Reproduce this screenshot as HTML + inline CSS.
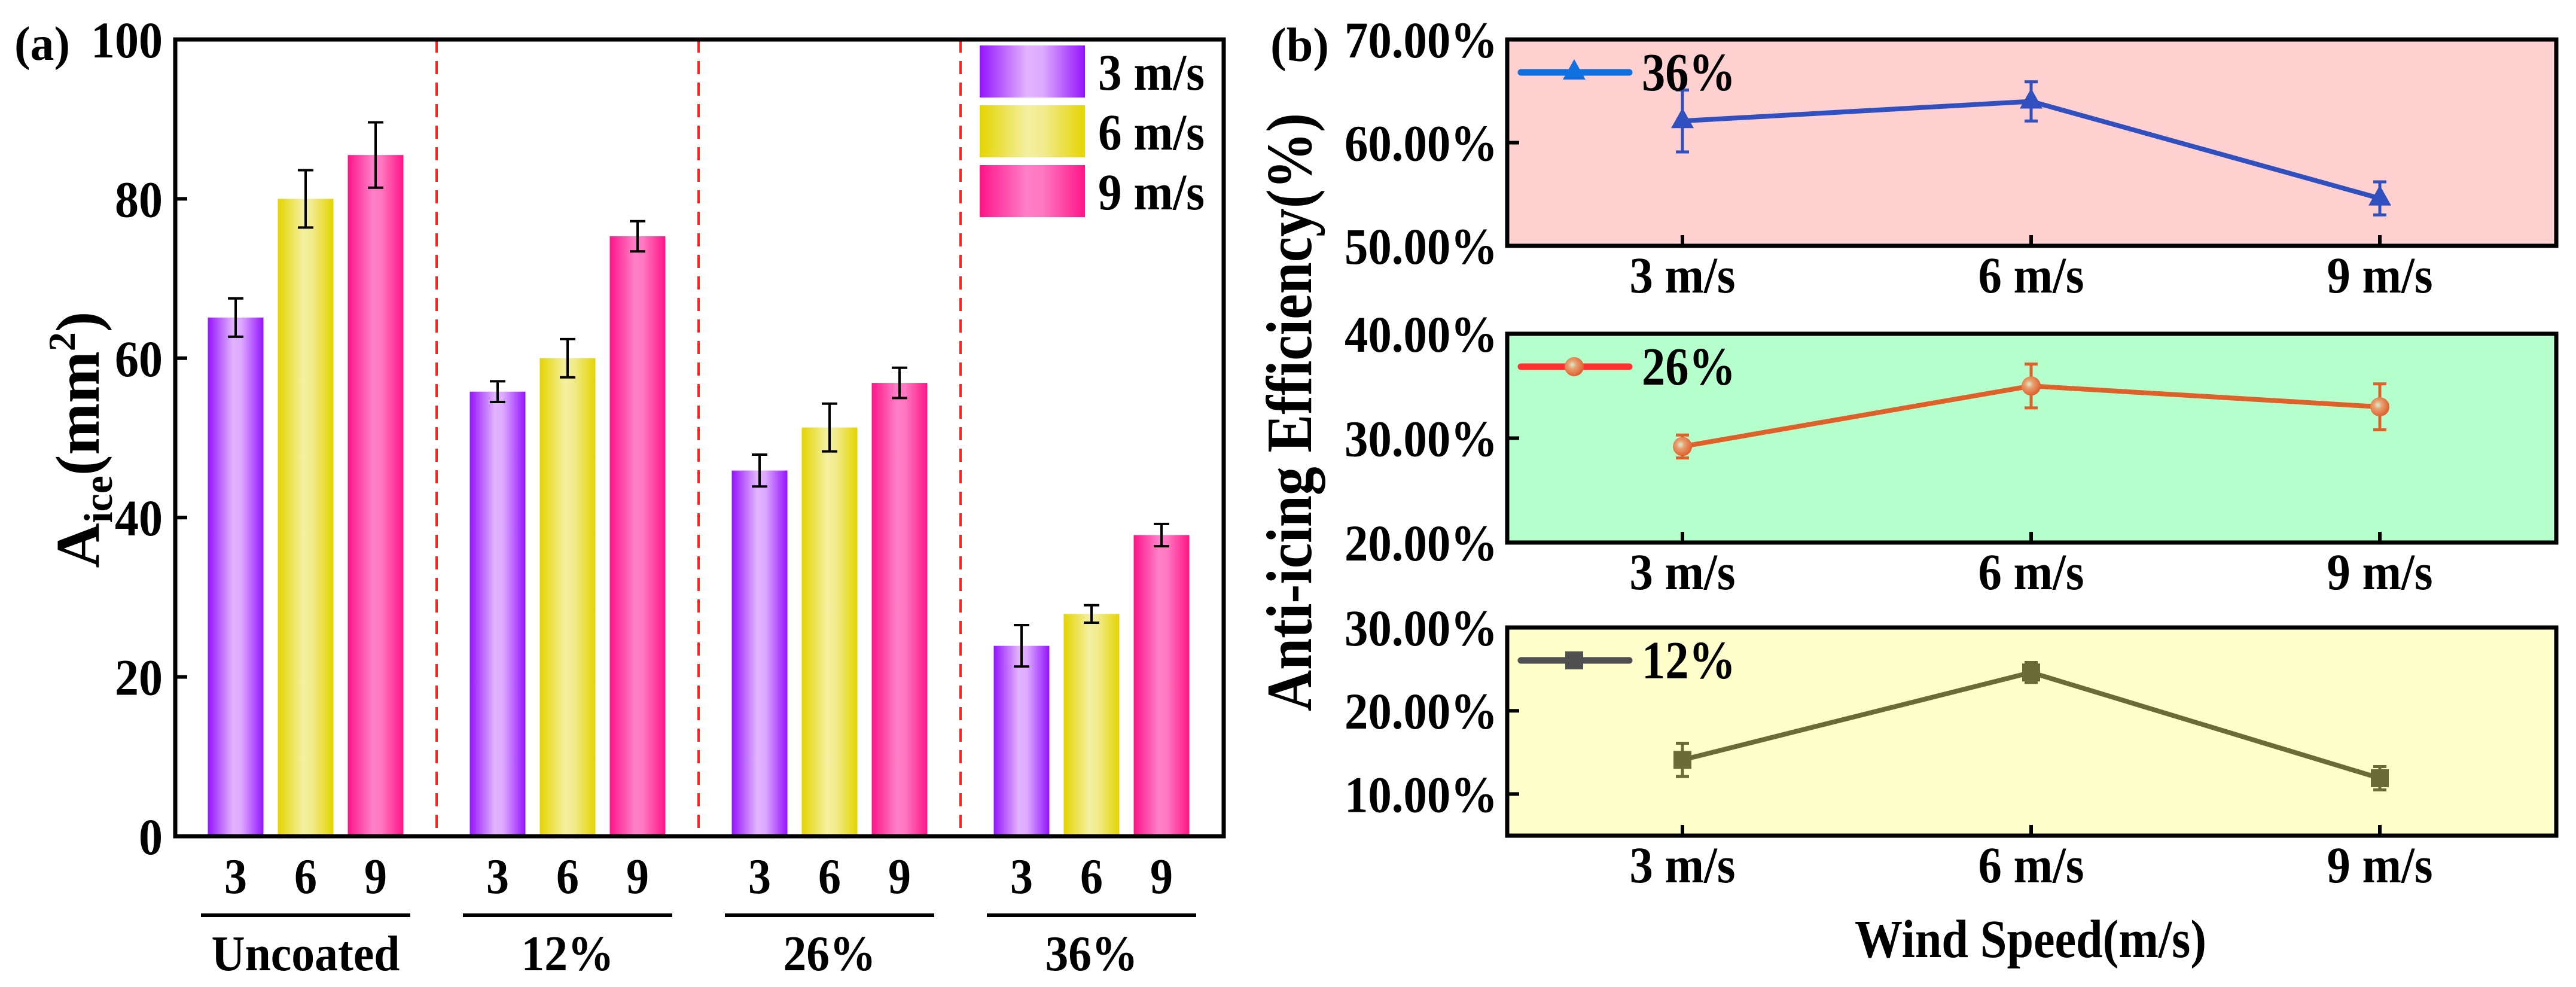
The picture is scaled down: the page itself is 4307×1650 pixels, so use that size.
<!DOCTYPE html>
<html><head><meta charset="utf-8">
<style>
html,body{margin:0;padding:0;background:#fff;}
svg{display:block;font-family:"Liberation Serif","Times New Roman",serif;font-weight:bold;}
</style></head>
<body>
<svg id="chart" width="4307" height="1650" viewBox="0 0 4307 1650" xmlns="http://www.w3.org/2000/svg" font-family="Liberation Serif, serif" font-weight="bold">
<defs>
<linearGradient id="gP" x1="0" x2="1" y1="0" y2="0"><stop offset="0" stop-color="#9414ff"/><stop offset="0.45" stop-color="#e2b4ff"/><stop offset="0.6" stop-color="#ddaaff"/><stop offset="1" stop-color="#9414ff"/></linearGradient>
<linearGradient id="gY" x1="0" x2="1" y1="0" y2="0"><stop offset="0" stop-color="#e4d400"/><stop offset="0.45" stop-color="#f4f0a0"/><stop offset="0.6" stop-color="#f2ec90"/><stop offset="1" stop-color="#e4d400"/></linearGradient>
<linearGradient id="gK" x1="0" x2="1" y1="0" y2="0"><stop offset="0" stop-color="#ff1488"/><stop offset="0.45" stop-color="#ff80c8"/><stop offset="0.6" stop-color="#ff78c0"/><stop offset="1" stop-color="#ff1488"/></linearGradient>
<radialGradient id="gBall" cx="0.4" cy="0.4" r="0.6"><stop offset="0" stop-color="#d8f0d0"/><stop offset="0.35" stop-color="#e8a070"/><stop offset="1" stop-color="#e06030"/></radialGradient>
</defs>
<g id="left"></g>
<g id="right"></g>
</svg>
<script>
const groups = ["Uncoated","12%","26%","36%"];
const speeds = ["3","6","9"];
const barVals3 = [65.1, 55.8, 45.9, 23.9];
const barVals6 = [80.0, 60.0, 51.3, 27.9];
const barVals9 = [85.5, 75.3, 56.9, 37.8];
const barErr3 = [2.4, 1.3, 2.0, 2.6];
const barErr6 = [3.6, 2.4, 3.0, 1.1];
const barErr9 = [4.1, 1.9, 1.9, 1.4];
const yTicksA = [0,20,40,60,80,100];
const legendA = ["3 m/s","6 m/s","9 m/s"];

const windLabels = ["3 m/s","6 m/s","9 m/s"];
const eff36 = [62.1, 64.0, 54.6];
const err36 = [3.0, 1.9, 1.6];
const eff26 = [29.2, 35.0, 33.0];
const err26 = [1.1, 2.1, 2.2];
const eff12 = [14.1, 24.6, 11.9];
const err12 = [2.0, 1.2, 1.4];
const ticks36 = ["70.00%","60.00%","50.00%"];
const ticks26 = ["40.00%","30.00%","20.00%"];
const ticks12 = ["30.00%","20.00%","10.00%"];

const NS="http://www.w3.org/2000/svg";
function mk(parent,tag,attrs,text){const e=document.createElementNS(NS,tag);for(const k in attrs)e.setAttribute(k,attrs[k]);if(text!==undefined)e.textContent=text;parent.appendChild(e);return e;}
function fit(el,w){el.setAttribute('textLength',w);el.setAttribute('lengthAdjust','spacingAndGlyphs');}

// ---------- Left chart ----------
const L=document.getElementById('left');
const ax={l:293,r:2046,t:66,b:1398};
const yA=v=>ax.b-(v/100)*(ax.b-ax.t);
const groupCenter=g=>511+g*438;
const barOff=[-117,0,117], barW=93;
const fills=["url(#gP)","url(#gY)","url(#gK)"];
const vals=[barVals3,barVals6,barVals9], errs=[barErr3,barErr6,barErr9];
const groupW=[315,155,155,155];
for(let g=0;g<groups.length;g++){
  for(let s=0;s<3;s++){
    const cx=groupCenter(g)+barOff[s], v=vals[s][g], e=errs[s][g];
    const r=mk(L,'rect',{x:cx-barW/2,y:yA(v),width:barW,height:ax.b-yA(v),fill:fills[s]});
    
    
    const eb=mk(L,'path',{d:`M${cx} ${yA(v+e)}V${yA(v-e)}M${cx-13} ${yA(v+e)}H${cx+13}M${cx-13} ${yA(v-e)}H${cx+13}`,stroke:'#000','stroke-width':4,fill:'none'});
    
    
    const t=mk(L,'text',{x:cx,y:1493,'font-size':84,'text-anchor':'middle'},speeds[s]);
    fit(t,38);
    
    
  }
  const c=groupCenter(g);
  const u=mk(L,'line',{x1:c-175,x2:c+175,y1:1530,y2:1530,stroke:'#000','stroke-width':6});
  
  
  const gt=mk(L,'text',{x:c,y:1622,'font-size':84,'text-anchor':'middle'},groups[g]);
  fit(gt,groupW[g]);
  
  
  if(g>0){
    const dx=(groupCenter(g-1)+groupCenter(g))/2;
    const dl=mk(L,'line',{x1:dx,x2:dx,y1:ax.t,y2:ax.b,stroke:'#ff2020','stroke-width':4,'stroke-dasharray':'22 14'});
    
    
  }
}
const fr=mk(L,'rect',{x:ax.l,y:ax.t,width:ax.r-ax.l,height:ax.b-ax.t,fill:'none',stroke:'#000','stroke-width':7});


yTicksA.forEach(v=>{
  const tk=mk(L,'line',{x1:ax.l,x2:ax.l+20,y1:yA(v),y2:yA(v),stroke:'#000','stroke-width':6});
  
  
  const tl=mk(L,'text',{x:272,y:yA(v)+30,'font-size':86,'text-anchor':'end'},String(v));
  fit(tl,String(v).length*40);
  
  
});
const yt=mk(L,'text',{transform:'translate(165 735) rotate(-90)','font-size':104,'text-anchor':'middle'});


yt.innerHTML='A<tspan font-size="68" dy="22">ice</tspan><tspan dy="-22">(mm</tspan><tspan font-size="64" dy="-40">2</tspan><tspan dy="40">)</tspan>';
const pa=mk(L,'text',{x:24,y:100,'font-size':80},'(a)');
fit(pa,93);


legendA.forEach((s,i)=>{
  const y0=76+i*100;
  const lr=mk(L,'rect',{x:1638,y:y0,width:176,height:87,fill:fills[i]});
  
  
  const lt=mk(L,'text',{x:1836,y:y0+74,'font-size':86},s);
  fit(lt,178);
  
  
});

// ---------- Right charts ----------
const R=document.getElementById('right');
const px={l:2520,r:4274};
const xB=i=>2813+i*583;
const panels=[
 {t:66,b:411,min:50,max:70,tv:[70,60,50],tl:ticks36,vals:eff36,errs:err36,bg:'#ffd0d0',col:'#3050c0',lcol:'#1070e0',mk:'tri',name:'36%'},
 {t:558,b:907,min:20,max:40,tv:[40,30,20],tl:ticks26,vals:eff26,errs:err26,bg:'#b5ffcc',col:'#e0602a',lcol:'#ff3030',mk:'ball',name:'26%'},
 {t:1049,b:1397,min:5,max:30,tv:[30,20,10],tl:ticks12,vals:eff12,errs:err12,bg:'#ffffcc',col:'#6b6b38',lcol:'#505050',mk:'sq',name:'12%'}
];
function marker(par,type,x,y,col){
  let e;
  if(type==='tri') e=mk(par,'path',{d:`M${x} ${y-22}L${x+19} ${y+12}L${x-19} ${y+12}Z`,fill:col});
  else if(type==='sq') e=mk(par,'rect',{x:x-15,y:y-15,width:30,height:30,fill:col});
  else e=mk(par,'circle',{cx:x,cy:y,r:16,fill:'url(#gBall)'});
  
  
}
panels.forEach((p,pi)=>{
  const y=v=>p.b-(v-p.min)/(p.max-p.min)*(p.b-p.t);
  const bg=mk(R,'rect',{x:px.l,y:p.t,width:px.r-px.l,height:p.b-p.t,fill:p.bg});
  
  
  p.tv.forEach((v,i)=>{
    const tk=mk(R,'line',{x1:px.l,x2:px.l+20,y1:y(v),y2:y(v),stroke:'#000','stroke-width':6});
    
    
    const tl=mk(R,'text',{x:2504,y:y(v)+30,'font-size':86,'text-anchor':'end'},p.tl[i]);
    fit(tl,256);
    
    
  });
  let d='';
  p.vals.forEach((v,i)=>{d+=(i?'L':'M')+xB(i)+' '+y(v);});
  const ln=mk(R,'path',{d:d,stroke:p.col,'stroke-width':8,fill:'none','stroke-linejoin':'round'});
  
  
  p.vals.forEach((v,i)=>{
    const x=xB(i),e=p.errs[i];
    const eb=mk(R,'path',{d:`M${x} ${y(v+e)}V${y(v-e)}M${x-11} ${y(v+e)}H${x+11}M${x-11} ${y(v-e)}H${x+11}`,stroke:p.col,'stroke-width':5,fill:'none'});
    
    
    marker(R,p.mk,x,y(v),p.col);
    const tk=mk(R,'line',{x1:x,x2:x,y1:p.b,y2:p.b-18,stroke:'#000','stroke-width':6});
    
    
    const xl=mk(R,'text',{x:x,y:p.b+78,'font-size':86,'text-anchor':'middle'},windLabels[i]);
    fit(xl,177);
    
    
  });
  const fr2=mk(R,'rect',{x:px.l,y:p.t,width:px.r-px.l,height:p.b-p.t,fill:'none',stroke:'#000','stroke-width':7});
  
  
  const ly=p.t+55;
  const ll=mk(R,'line',{x1:2543,x2:2724,y1:ly,y2:ly,stroke:p.lcol,'stroke-width':11,'stroke-linecap':'round'});
  
  
  marker(R,p.mk,2632,ly,p.lcol);
  const lt=mk(R,'text',{x:2745,y:ly+30,'font-size':90},p.name);
  fit(lt,157);
  
  
});
const yt2=mk(R,'text',{transform:'translate(2192 689) rotate(-90)','font-size':108,'text-anchor':'middle'},'Anti-icing Efficiency(%)');
fit(yt2,1000);


const xt2=mk(R,'text',{x:3395,y:1600,'font-size':90,'text-anchor':'middle'},'Wind Speed(m/s)');
fit(xt2,588);


const pb=mk(R,'text',{x:2124,y:102,'font-size':80},'(b)');
fit(pb,98);


</script>
</body></html>
